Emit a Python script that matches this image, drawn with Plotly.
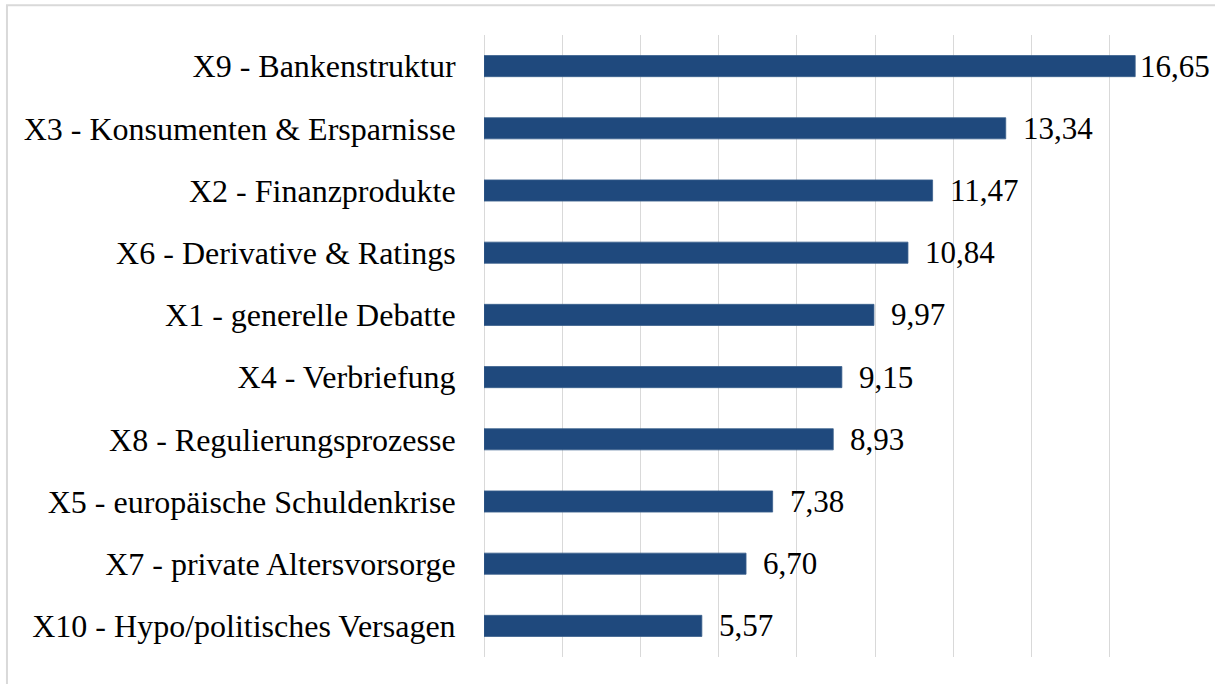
import plotly.graph_objects as go

categories = [
    "X9 - Bankenstruktur",
    "X3 - Konsumenten & Ersparnisse",
    "X2 - Finanzprodukte",
    "X6 - Derivative & Ratings",
    "X1 - generelle Debatte",
    "X4 - Verbriefung",
    "X8 - Regulierungsprozesse",
    "X5 - europäische Schuldenkrise",
    "X7 - private Altersvorsorge",
    "X10 - Hypo/politisches Versagen",
]
values = [16.65, 13.34, 11.47, 10.84, 9.97, 9.15, 8.93, 7.38, 6.70, 5.57]
value_labels = [f"{v:.2f}".replace(".", ",") for v in values]

FONT = "Liberation Serif, Times New Roman, serif"
AXIS_MAX = 18

fig = go.Figure(
    go.Bar(
        y=categories,
        x=values,
        orientation="h",
        marker=dict(color="#1f497d", line=dict(color="#3a5f8c", width=0.8)),
        hoverinfo="skip",
    )
)

for cat, v, lab in zip(categories, values, value_labels):
    shift = 15 if v < AXIS_MAX - 1.5 else 3
    fig.add_annotation(
        x=v, y=cat, text=lab, xanchor="left", yanchor="middle",
        xshift=shift, showarrow=False,
        font=dict(family=FONT, size=31, color="#000000"),
    )

fig.add_shape(
    type="rect", xref="paper", yref="paper",
    x0=-0.6776, x1=1.045, y0=-0.06, y1=1.048,
    line=dict(color="#d9d9d9", width=2), fillcolor="rgba(0,0,0,0)", layer="below",
)

fig.update_layout(
    width=1215, height=684,
    margin=dict(l=484, r=27, t=35, b=27),
    paper_bgcolor="white", plot_bgcolor="white",
    bargap=0.66,
    showlegend=False,
    font=dict(family=FONT, size=32, color="#000000"),
    xaxis=dict(
        range=[0, AXIS_MAX], dtick=2, showticklabels=False,
        showgrid=True, gridcolor="#d9d9d9", gridwidth=1.3,
        zeroline=True, zerolinecolor="#d9d9d9", zerolinewidth=1.3,
        showline=False, fixedrange=True,
    ),
    yaxis=dict(
        autorange="reversed", showgrid=False, showline=False, zeroline=False,
        ticks="outside", ticklen=21, tickcolor="rgba(0,0,0,0)",
        tickfont=dict(family=FONT, size=32, color="#000000"),
        fixedrange=True,
    ),
)

fig.write_html(
    "out.html",
    config={"displayModeBar": False},
    post_script="document.body.style.margin='0';",
)
